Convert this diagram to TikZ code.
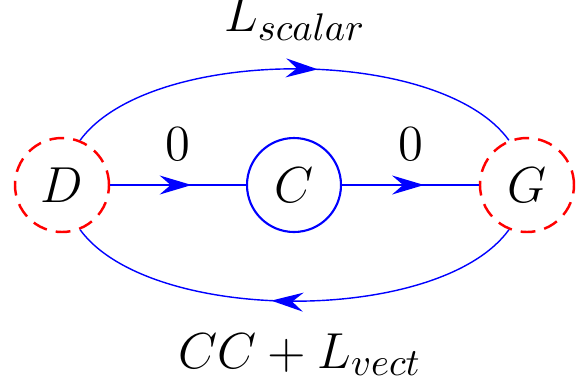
\documentclass[tikz,border=0pt]{standalone}
\usepackage{amsmath}
\usetikzlibrary{arrows.meta, decorations.markings, positioning}
\begin{document}
\begin{tikzpicture}[
    every node/.style={font=\fontsize{15}{18}\selectfont},
    vtx/.style={circle, minimum size=0.94cm, inner sep=0pt},
    ext/.style={vtx, draw=red, line width=0.7pt, dash pattern=on 4.2pt off 2.6pt},
    loopv/.style={vtx, draw=blue, line width=0.6pt},
    prop/.style={draw=blue, line width=0.4pt, postaction={decorate},
                 decoration={markings, mark=at position #1 with {\arrow{flow}}}},
    prop/.default=0.6,
    flow/.tip={Stealth[length=3.2mm, width=1.9mm, inset=1.1mm, blue]},
]
    \useasboundingbox (0,0) rectangle (5.77,3.83);

    % Vertices.
    \node[ext]   (D) at (0.62, 1.98) {$D$};
    \node[loopv] (C) at (2.94, 1.98) {$C$};
    \node[ext]   (G) at (5.27, 1.98) {$G$};

    % Straight propagators.
    \draw[prop] (D.east) -- node[above=0.12cm] (z1) {$0$} (C.west);
    \draw[prop] (C.east) -- node[above=0.12cm] (z2) {$0$} (G.west);

    % Outer propagators.
    \draw[prop=0.55] (D.68) .. controls (1.50, 3.38) and (4.40, 3.38) .. (G.112)
        node[pos=0.5, above=0.26cm, inner sep=0.5pt] (ls) {$L_{scalar}$};
    \draw[prop=0.55] (G.-112) .. controls (4.40, 0.58) and (1.50, 0.58) .. (D.-68)
        node[pos=0.5, below=0.2cm, xshift=0.05cm] (lv) {$CC + L_{vect}$};
\end{tikzpicture}
\end{document}
